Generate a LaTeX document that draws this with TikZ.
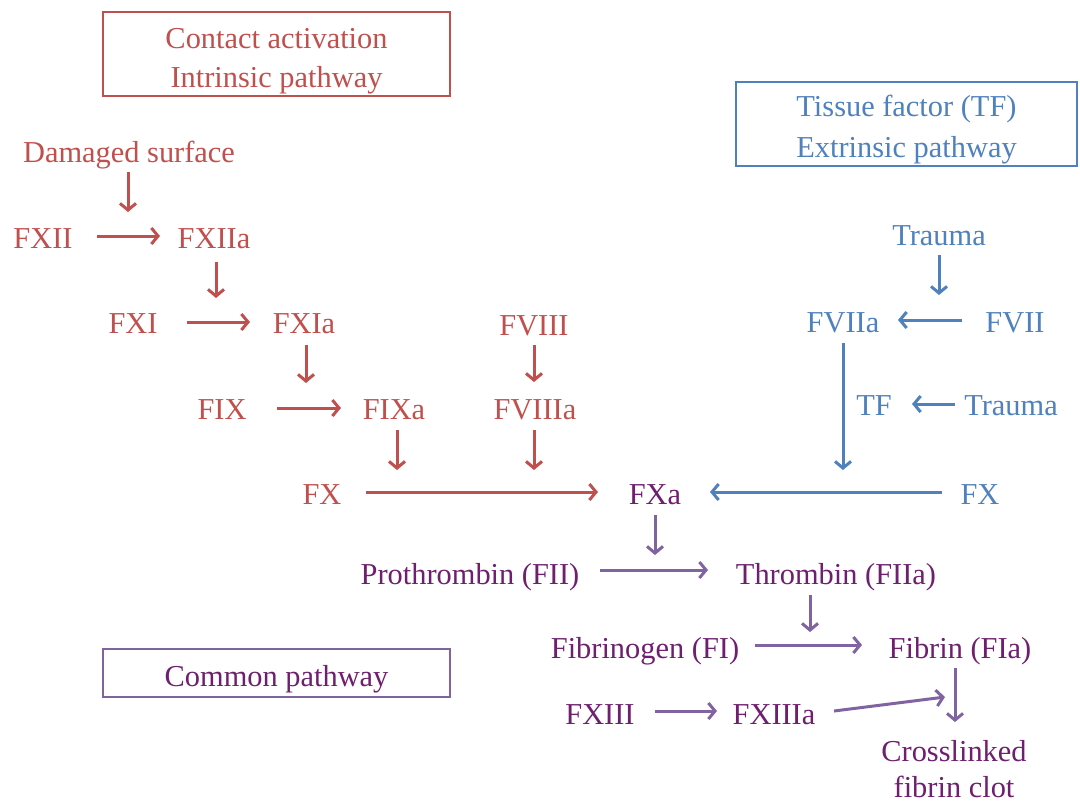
\documentclass[tikz,border=0pt]{standalone}
\usepackage{fontspec}
\setmainfont{Liberation Serif}
\usetikzlibrary{arrows.meta,calc}
\definecolor{rc}{HTML}{C0504D}
\definecolor{bc}{HTML}{4F81BD}
\definecolor{pa}{HTML}{8064A2}
\definecolor{ptx}{HTML}{6E1F6E}
\begin{document}
\begin{tikzpicture}[x=0.75pt,y=-0.75pt,
  lbl/.style={font=\fontsize{22.8}{27.5}\selectfont,inner sep=0pt,text height=15pt,text depth=0pt},
  rt/.style={lbl,text=rc},
  bt/.style={lbl,text=bc},
  ptn/.style={lbl,text=ptx},
  arr/.style={line width=2.25pt,-{Straight Barb[length=5pt,width=12pt]}},
  rarr/.style={arr,draw=rc},
  barr/.style={arr,draw=bc},
  parr/.style={arr,draw=pa},
  pbox/.style={draw,line width=1.5pt,align=center,inner sep=0pt,minimum width=260.25pt,text depth=0pt}
]
\useasboundingbox (0,0) rectangle (1080,801);
% boxes
\node[pbox,draw=rc,text=rc,minimum height=63pt,text height=49.5pt,font=\fontsize{22.8}{29.25}\selectfont] (intr) at (276.5,54) {Contact activation\\Intrinsic pathway};
\node[pbox,draw=bc,text=bc,minimum width=255.75pt,minimum height=63pt,text height=50pt,font=\fontsize{22.8}{30.4}\selectfont] (extr) at (906.5,124) {Tissue factor (TF)\\Extrinsic pathway};
\node[pbox,draw=pa,text=ptx,minimum height=36pt,text height=20pt,font=\fontsize{22.8}{27.75}\selectfont] (comm) at (276.5,673) {Common pathway};
% intrinsic
\node[rt] (dmg) at (129,152) {Damaged surface};
\node[rt] (fxii) at (43,238) {FXII};
\node[rt] (fxiia) at (214,238) {FXIIa};
\node[rt] (fxi) at (133,323) {FXI};
\node[rt] (fxia) at (304,323) {FXIa};
\node[rt] (fix) at (222,409) {FIX};
\node[rt] (fixa) at (394,409) {FIXa};
\node[rt] (fviii) at (534,325) {FVIII};
\node[rt] (fviiia) at (535,409) {FVIIIa};
\node[rt] (fx) at (322,494) {FX};
% extrinsic
\node[bt] (tra1) at (939,235) {Trauma};
\node[bt] (fvii) at (1015,322) {FVII};
\node[bt] (fviia) at (843,322) {FVIIa};
\node[bt] (tf) at (874,405) {TF};
\node[bt] (tra2) at (1011,405) {Trauma};
\node[bt] (fxr) at (980,494) {FX};
% common
\node[ptn] (fxa) at (655,494) {FXa};
\node[ptn] (pro) at (470,574) {Prothrombin (FII)};
\node[ptn] (thr) at (836,574) {Thrombin (FIIa)};
\node[ptn] (fgn) at (645,648) {Fibrinogen (FI)};
\node[ptn] (fib) at (960,648) {Fibrin (FIa)};
\node[ptn] (fxiii) at (600,714) {FXIII};
\node[ptn] (fxiiia) at (774,714) {FXIIIa};
\node[lbl,text=ptx,align=center,text height=41.7pt,text depth=0pt,font=\fontsize{22.8}{27}\selectfont] (clot) at (954,770) {Crosslinked\\fibrin clot};
% coordinates (arrow targets on arrows)
\coordinate (c1) at (128,212);
\coordinate (c2) at (216,298);
\coordinate (c3) at (306,383);
\coordinate (c4) at (397,470);
\coordinate (c5) at (534,470);
\coordinate (c6) at (939,295);
\coordinate (c7) at (843,470);
\coordinate (c8) at (655,555);
\coordinate (c9) at (810,632);
\coordinate (c10) at (945,697);
% red arrows
\draw[rarr] ($(dmg)+(-1,20)$) -- (c1);
\draw[rarr] ($(fxii)+(54,-2)$) -- ($(fxiia)+(-54,-2)$);
\draw[rarr] ($(fxiia)+(2,24)$) -- (c2);
\draw[rarr] ($(fxi)+(54,-1)$) -- ($(fxia)+(-54,-1)$);
\draw[rarr] ($(fxia)+(2,22)$) -- (c3);
\draw[rarr] ($(fix)+(55,-1)$) -- ($(fixa)+(-53,-1)$);
\draw[rarr] ($(fviii)+(0,20)$) -- ($(fviiia)+(-1,-27)$);
\draw[rarr] ($(fixa)+(3,21)$) -- (c4);
\draw[rarr] ($(fviiia)+(-1,21)$) -- (c5);
\draw[rarr] ($(fx)+(44,-2)$) -- ($(fxa)+(-57,-2)$);
% blue arrows
\draw[barr] ($(tra1)+(0,20)$) -- (c6);
\draw[barr] ($(fvii)+(-53,-2)$) -- ($(fviia)+(55,-2)$);
\draw[barr] ($(fviia)+(0,21)$) -- (c7);
\draw[barr] ($(tra2)+(-56,-1)$) -- ($(tf)+(38,-1)$);
\draw[barr] ($(fxr)+(-38,-2)$) -- ($(fxa)+(55,-2)$);
% purple arrows
\draw[parr] ($(fxa)+(0,21)$) -- (c8);
\draw[parr] ($(pro)+(130,-4)$) -- ($(thr)+(-128,-4)$);
\draw[parr] ($(thr)+(-26,21)$) -- (c9);
\draw[parr] ($(fgn)+(110,-3)$) -- ($(fib)+(-98,-3)$);
\draw[parr] ($(fxiii)+(55,-3)$) -- ($(fxiiia)+(-57,-3)$);
\draw[parr] ($(fxiiia)+(60,-3)$) -- (c10);
\draw[parr] ($(fib)+(-5,20)$) -- ($(clot)+(1,-48)$);
\end{tikzpicture}
\end{document}
